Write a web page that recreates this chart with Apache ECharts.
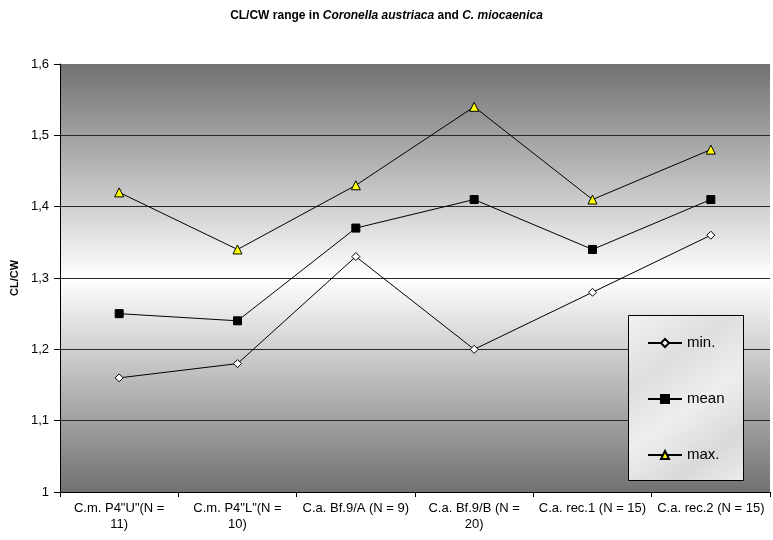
<!DOCTYPE html>
<html><head><meta charset="utf-8">
<script src="https://cdn.jsdelivr.net/npm/echarts@6/dist/echarts.min.js"></script>
<style>html,body{margin:0;padding:0;background:#fff}#c{width:773px;height:540px}</style>
</head><body><div id="c"></div>
<script>
const categories = ['C.m. P4"U"(N =\n11)', 'C.m. P4"L"(N =\n10)', 'C.a. Bf.9/A (N = 9)', 'C.a. Bf.9/B (N =\n20)', 'C.a. rec.1 (N = 15)', 'C.a. rec.2 (N = 15)'];
const minVals = [1.16, 1.18, 1.33, 1.20, 1.28, 1.36];
const meanVals = [1.25, 1.24, 1.37, 1.41, 1.34, 1.41];
const maxVals = [1.42, 1.34, 1.43, 1.54, 1.41, 1.48];

const chart = echarts.init(document.getElementById('c'));
const F = 'Arial, "Liberation Sans", sans-serif';
const gl = '#2a2a2a';
chart.setOption({
  animation: false,
  textStyle: {fontFamily: F},
  title: {
    text: '{b|CL/CW range in }{i|Coronella austriaca}{b| and }{i|C. miocaenica}',
    left: 'center', top: 5,
    textStyle: {rich: {
      b: {fontFamily: F, fontSize: 12, fontWeight: 'bold', color: '#000'},
      i: {fontFamily: F, fontSize: 12, fontWeight: 'bold', fontStyle: 'italic', color: '#000'}
    }}
  },
  grid: {
    left: 60, right: 3, top: 64, bottom: 48, show: true, borderWidth: 0,
    backgroundColor: new echarts.graphic.LinearGradient(0, 0, 0, 1, [
      {offset: 0, color: '#717171'},
      {offset: 0.5, color: '#ffffff'},
      {offset: 1, color: '#717171'}
    ])
  },
  xAxis: {
    type: 'category', data: categories, boundaryGap: true,
    axisLine: {lineStyle: {color: '#000', width: 1}},
    axisTick: {show: true, length: 5, lineStyle: {color: '#000'}},
    axisLabel: {color: '#000', fontSize: 13, lineHeight: 16, margin: 8, interval: 0}
  },
  yAxis: {
    type: 'value', min: 1, max: 1.6, interval: 0.1,
    name: 'CL/CW', nameLocation: 'middle', nameGap: 39, nameRotate: 90,
    nameTextStyle: {fontSize: 11, fontWeight: 'bold', color: '#000'},
    axisLine: {show: true, lineStyle: {color: '#000'}},
    axisTick: {show: true, length: 6, lineStyle: {color: '#000'}},
    axisLabel: {color: '#000', fontSize: 13, margin: 11,
      formatter: v => (Math.round(v * 10) / 10).toString().replace('.', ',')},
    splitLine: {show: true, lineStyle: {color: [gl, gl, gl, gl, gl, gl, 'rgba(0,0,0,0)'], width: 1.2}}
  },
  graphic: [{
    type: 'rect', left: 628, top: 315, z: 5,
    shape: {width: 115, height: 165},
    style: {
      fill: new echarts.graphic.LinearGradient(0, 0, 1, 1, [
        {offset: 0, color: '#f2f2f2'}, {offset: 0.3, color: '#dedede'},
        {offset: 0.55, color: '#eeeeee'}, {offset: 0.8, color: '#d9d9d9'},
        {offset: 1, color: '#ececec'}
      ]),
      stroke: '#000', lineWidth: 1
    }
  }],
  legend: {
    orient: 'vertical', left: 628, top: 315, z: 10,
    padding: [20, 10, 10, 19], itemGap: 40, itemWidth: 34, itemHeight: 10,
    textStyle: {color: '#000', fontSize: 15, lineHeight: 16},
    data: ['min.', 'mean', 'max.']
  },
  series: [
    {name: 'min.', type: 'line', data: minVals, symbol: 'diamond', symbolSize: 8,
      lineStyle: {color: '#000', width: 1}, itemStyle: {color: '#fff', borderColor: '#000', borderWidth: 1}, z: 3},
    {name: 'mean', type: 'line', data: meanVals, symbol: 'rect', symbolSize: 8,
      lineStyle: {color: '#000', width: 1}, itemStyle: {color: '#000', borderColor: '#000', borderWidth: 1}, z: 3},
    {name: 'max.', type: 'line', data: maxVals, symbol: 'triangle', symbolSize: 9,
      lineStyle: {color: '#000', width: 1}, itemStyle: {color: '#ffff00', borderColor: '#000', borderWidth: 1}, z: 3}
  ]
});
</script></body></html>
